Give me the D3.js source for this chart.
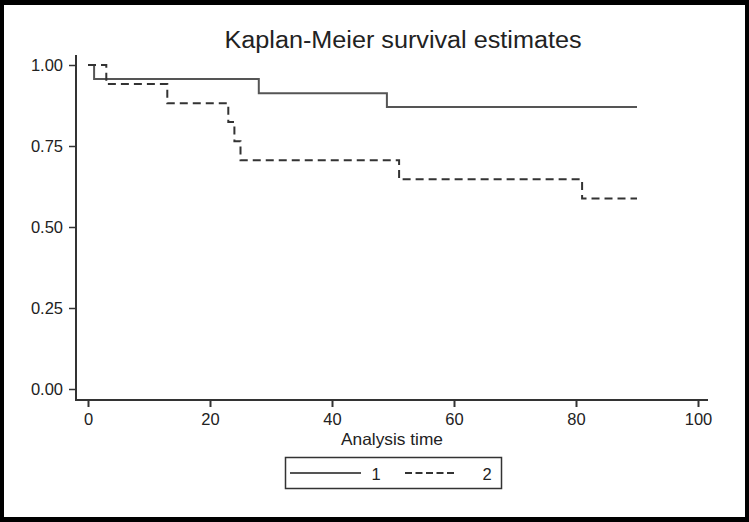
<!DOCTYPE html>
<html>
<head>
<meta charset="utf-8">
<script src="https://cdn.jsdelivr.net/npm/d3@7"></script>
<style>
html,body{margin:0;padding:0;background:#000;}
svg{display:block;}
text{font-family:"Liberation Sans",Arial,sans-serif;fill:#222;}
</style>
</head>
<body>
<svg id="chart" width="749" height="522"></svg>
<script>
// ---- data ----
const title = "Kaplan-Meier survival estimates";
const xLabel = "Analysis time";
const xTicks = [0, 20, 40, 60, 80, 100];
const yTicks = [0, 0.25, 0.5, 0.75, 1];
const group1Times = [0, 1, 28, 49, 90];
const group1Surv  = [1, 0.957, 0.913, 0.870, 0.870];
const group2Times = [0, 3, 13, 23, 24, 25, 51, 81, 90];
const group2Surv  = [1, 0.941, 0.882, 0.824, 0.765, 0.706, 0.647, 0.588, 0.588];
const legendLabels = ["1", "2"];

// ---- layout ----
const svg = d3.select("#chart");
svg.append("rect").attr("x", 4).attr("y", 5).attr("width", 741).attr("height", 512).attr("fill", "#fff");

const x = d3.scaleLinear().domain([0, 100]).range([88, 698]);
const y = d3.scaleLinear().domain([0, 1]).range([389, 65]);
const axisColor = "#333";
const labelSize = 16.5;

// title
svg.append("text").attr("x", 403).attr("y", 48).attr("text-anchor", "middle")
  .attr("font-size", 23).attr("textLength", 357).attr("lengthAdjust", "spacingAndGlyphs")
  .text(title);

// y axis
const yAxis = svg.append("g").attr("transform", "translate(76,0)")
  .call(d3.axisLeft(y).tickValues(yTicks).tickFormat(d3.format(".2f")).tickSize(7).tickPadding(6));
yAxis.select(".domain").remove();
yAxis.selectAll(".tick line").attr("stroke", axisColor).attr("stroke-width", 1.5);
yAxis.selectAll(".tick text").attr("font-size", labelSize).attr("fill", "#222")
  .attr("font-family", "Liberation Sans, Arial, sans-serif");
svg.append("line").attr("x1", 76).attr("x2", 76).attr("y1", 55).attr("y2", 401)
  .attr("stroke", axisColor).attr("stroke-width", 2);

// x axis
const xAxis = svg.append("g").attr("transform", "translate(0,400)")
  .call(d3.axisBottom(x).tickValues(xTicks).tickFormat(d3.format("d")).tickSize(7).tickPadding(6));
xAxis.select(".domain").remove();
xAxis.selectAll(".tick line").attr("stroke", axisColor).attr("stroke-width", 2);
xAxis.selectAll(".tick text").attr("font-size", labelSize).attr("fill", "#222")
  .attr("font-family", "Liberation Sans, Arial, sans-serif");
svg.append("line").attr("x1", 75).attr("x2", 708).attr("y1", 400).attr("y2", 400)
  .attr("stroke", axisColor).attr("stroke-width", 2);

svg.append("text").attr("x", 392).attr("y", 445).attr("text-anchor", "middle")
  .attr("font-size", labelSize).attr("textLength", 102).attr("lengthAdjust", "spacingAndGlyphs")
  .text(xLabel);

// curves
const line = d3.line().x(d => x(d[0])).y(d => y(d[1])).curve(d3.curveStepAfter);
const g1 = group1Times.map((t, i) => [t, group1Surv[i]]);
const g2 = group2Times.map((t, i) => [t, group2Surv[i]]);
svg.append("path").datum(g1).attr("d", line).attr("fill", "none")
  .attr("stroke", "#555").attr("stroke-width", 2);
svg.append("path").datum(g2).attr("d", line).attr("fill", "none")
  .attr("stroke", "#333").attr("stroke-width", 2).attr("stroke-dasharray", "8,5");

// legend
const lg = svg.append("g");
lg.append("rect").attr("x", 285.5).attr("y", 457.5).attr("width", 216).attr("height", 31)
  .attr("fill", "#fff").attr("stroke", "#333").attr("stroke-width", 1.5);
lg.append("line").attr("x1", 290).attr("x2", 361).attr("y1", 473).attr("y2", 473)
  .attr("stroke", "#555").attr("stroke-width", 2);
lg.append("text").attr("x", 376).attr("y", 479.5).attr("text-anchor", "middle")
  .attr("font-size", labelSize).text(legendLabels[0]);
lg.append("line").attr("x1", 405).attr("x2", 456).attr("y1", 473).attr("y2", 473)
  .attr("stroke", "#333").attr("stroke-width", 2).attr("stroke-dasharray", "7,3.5");
lg.append("text").attr("x", 487).attr("y", 479.5).attr("text-anchor", "middle")
  .attr("font-size", labelSize).text(legendLabels[1]);
</script>
</body>
</html>
